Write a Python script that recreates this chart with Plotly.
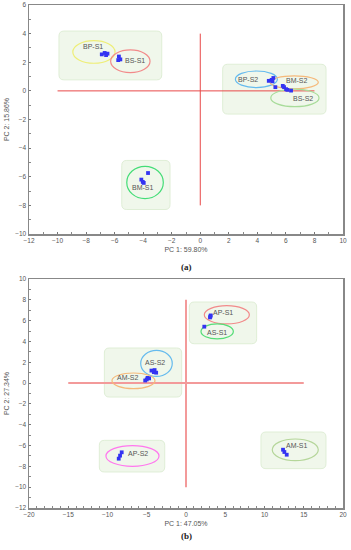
import plotly.graph_objects as go

# ---------------- Data: panel (a) ----------------
a_groups = ["BP-S1", "BS-S1", "BP-S2", "BM-S2", "BS-S2", "BM-S1"]
a_ell_cx = [-7.45, -4.90, 3.93, 6.58, 6.63, -3.87]
a_ell_cy = [2.72, 2.07, 0.81, 0.60, -0.49, -6.40]
a_ell_rx = [1.48, 1.38, 1.47, 1.69, 1.69, 1.28]
a_ell_ry = [0.79, 0.79, 0.58, 0.45, 0.61, 1.13]
a_ell_col = ["#eeee77", "#f28a8a", "#66bbee", "#f5b97a", "#a8dc9a", "#44dd77"]
a_lab_x = [-7.50, -4.57, 3.37, 6.76, 7.22, -4.03]
a_lab_y = [3.09, 2.09, 0.82, 0.74, -0.51, -6.74]
a_pts_x = [-6.90, -6.70, -6.50, -6.60, -5.70, -5.75, -5.60,
           4.80, 5.00, 5.12, 5.06, 5.26, 5.78, 5.87, 6.01, 6.10, 6.36,
           -3.66, -4.13, -4.03, -3.96]
a_pts_y = [2.55, 2.65, 2.60, 2.50, 2.40, 2.15, 2.20,
           0.70, 0.77, 0.90, 0.67, 0.26, 0.35, 0.26, 0.12, 0.07, 0.02,
           -5.74, -6.20, -6.36, -6.43]
a_box_x0 = [-9.9, 1.57, -5.5]
a_box_x1 = [-2.7, 8.81, -2.12]
a_box_y0 = [0.77, -1.62, -8.29]
a_box_y1 = [4.18, 1.86, -4.86]
a_hline = [-10, 8]   # y = 0
a_vline = [-8, 4]    # x = 0
a_xtitle = "PC 1: 59.80%"
a_ytitle = "PC 2: 15.86%"

# ---------------- Data: panel (b) ----------------
b_groups = ["AP-S1", "AS-S1", "AS-S2", "AM-S2", "AP-S2", "AM-S1"]
b_ell_cx = [5.20, 3.97, -3.76, -6.69, -6.82, 13.92]
b_ell_cy = [6.56, 4.96, 1.89, 0.22, -7.00, -6.41]
b_ell_rx = [2.87, 2.06, 2.01, 2.74, 3.38, 2.93]
b_ell_ry = [0.88, 0.72, 1.25, 0.75, 1.00, 1.04]
b_ell_col = ["#f28a8a", "#55dd77", "#66bbee", "#f5b97a", "#ff77ee", "#b5d69a"]
b_lab_x = [4.67, 3.90, -3.95, -7.35, -6.08, 14.18]
b_lab_y = [6.83, 4.90, 1.99, 0.55, -6.81, -6.01]
b_pts_x = [3.06, 3.15, 3.10, 2.33,
           -4.40, -4.00, -3.80, -4.10,
           -5.20, -4.90, -4.70, -5.00,
           -8.19, -8.40, -8.57,
           12.36, 12.53, 12.83]
b_pts_y = [6.31, 6.50, 6.40, 5.42,
           1.20, 1.25, 1.00, 1.05,
           0.25, 0.50, 0.45, 0.35,
           -6.65, -6.97, -7.26,
           -6.40, -6.62, -6.88]
b_box_x0 = [0.42, -10.4, -11.04, 9.55]
b_box_x1 = [9.0, -0.55, -2.71, 17.83]
b_box_y0 = [3.78, -1.34, -8.54, -8.22]
b_box_y1 = [7.79, 3.37, -5.5, -4.7]
b_hline = [-15, 15]
b_vline = [-10, 8]
b_xtitle = "PC 1: 47.05%"
b_ytitle = "PC 2: 27.34%"

fig = go.Figure()
shapes = []
annotations = []


def rounded(x0, x1, y0, y1, rx, ry):
    return (f"M {x0+rx},{y0} L {x1-rx},{y0} Q {x1},{y0} {x1},{y0+ry} "
            f"L {x1},{y1-ry} Q {x1},{y1} {x1-rx},{y1} L {x0+rx},{y1} "
            f"Q {x0},{y1} {x0},{y1-ry} L {x0},{y0+ry} Q {x0},{y0} {x0+rx},{y0} Z")


def panel(xr, yr, groups, cx, cy, erx, ery, cols, lx, ly,
          bx0, bx1, by0, by1, hl, vl, rr, lc, lw):
    for i in range(len(bx0)):
        shapes.append(dict(type="path", xref=xr, yref=yr, layer="below",
                           path=rounded(bx0[i], bx1[i], by0[i], by1[i], rr[0], rr[1]),
                           fillcolor="rgba(236,245,230,0.8)",
                           line=dict(color="#dfeed6", width=1)))
    shapes.append(dict(type="line", xref=xr, yref=yr, layer="below",
                       x0=hl[0], x1=hl[1], y0=0, y1=0, line=dict(color=lc, width=lw)))
    shapes.append(dict(type="line", xref=xr, yref=yr, layer="below",
                       x0=0, x1=0, y0=vl[0], y1=vl[1], line=dict(color=lc, width=lw)))
    for i in range(len(groups)):
        shapes.append(dict(type="circle", xref=xr, yref=yr, layer="below",
                           x0=cx[i]-erx[i], x1=cx[i]+erx[i],
                           y0=cy[i]-ery[i], y1=cy[i]+ery[i],
                           line=dict(color=cols[i], width=1.2)))
        annotations.append(dict(x=lx[i], y=ly[i], xref=xr, yref=yr, text=groups[i],
                                showarrow=False,
                                font=dict(family="Liberation Sans, Arial", size=7, color="#555555")))


panel("x", "y", a_groups, a_ell_cx, a_ell_cy, a_ell_rx, a_ell_ry,
      a_ell_col, a_lab_x, a_lab_y, a_box_x0, a_box_x1, a_box_y0, a_box_y1,
      a_hline, a_vline, (0.35, 0.35), "#e84848", 1)
panel("x2", "y2", b_groups, b_ell_cx, b_ell_cy, b_ell_rx, b_ell_ry,
      b_ell_col, b_lab_x, b_lab_y, b_box_x0, b_box_x1, b_box_y0, b_box_y1,
      b_hline, b_vline, (0.64, 0.48), "#f39a9a", 2)

fig.add_trace(go.Scatter(x=a_pts_x, y=a_pts_y, mode="markers", xaxis="x", yaxis="y",
                         marker=dict(color="#3333f2", size=3.8, symbol="square"),
                         showlegend=False, hoverinfo="skip"))
fig.add_trace(go.Scatter(x=b_pts_x, y=b_pts_y, mode="markers", xaxis="x2", yaxis="y2",
                         marker=dict(color="#3333f2", size=3.8, symbol="square"),
                         showlegend=False, hoverinfo="skip"))

tickfont = dict(family="Liberation Sans, Arial", size=6.5, color="#555555")
titlefont = dict(family="Liberation Sans, Arial", size=7, color="#555555")


def ax(rng, dtick, minor, domain, anchor, title):
    return dict(range=rng, domain=domain, anchor=anchor, dtick=dtick, tick0=0,
                automargin=False,
                showgrid=False, zeroline=False, showline=True, linecolor="#888888",
                linewidth=1.5, mirror=True, ticks="inside", ticklen=2, tickcolor="#777777",
                minor=dict(dtick=minor, ticks="inside", ticklen=2, tickcolor="#888888"),
                tickfont=tickfont, title=dict(text=title, font=titlefont, standoff=4),
                fixedrange=True)

layout = dict(
    width=351, height=550, margin=dict(l=0, r=0, t=0, b=0, autoexpand=False),
    paper_bgcolor="white", plot_bgcolor="white", showlegend=False,
    xaxis=ax([-12, 10], 2, 1, [29/351, 343/351], "y", a_xtitle),
    yaxis=ax([-10, 6], 2, 1, [(550-234)/550, (550-5)/550], "x", a_ytitle),
    xaxis2=ax([-20, 20], 5, 1, [29/351, 343/351], "y2", b_xtitle),
    yaxis2=ax([-12, 10], 2, 1, [(550-508)/550, (550-279)/550], "x2", b_ytitle),
)
annotations.append(dict(x=187/351, y=(550-267)/550, xref="paper", yref="paper", text="<b>(a)</b>",
                        showarrow=False, font=dict(family="Liberation Serif, Times New Roman", size=9, color="#222222")))
annotations.append(dict(x=187/351, y=(550-543)/550, xref="paper", yref="paper", text="<b>(b)</b>",
                        showarrow=False, font=dict(family="Liberation Serif, Times New Roman", size=9, color="#222222")))
layout["shapes"] = shapes
layout["annotations"] = annotations
fig.update_layout(**layout)
fig.write_html("out.html", config={"displayModeBar": False, "staticPlot": True},
               post_script="document.body.style.margin='0';document.body.style.padding='0';")
